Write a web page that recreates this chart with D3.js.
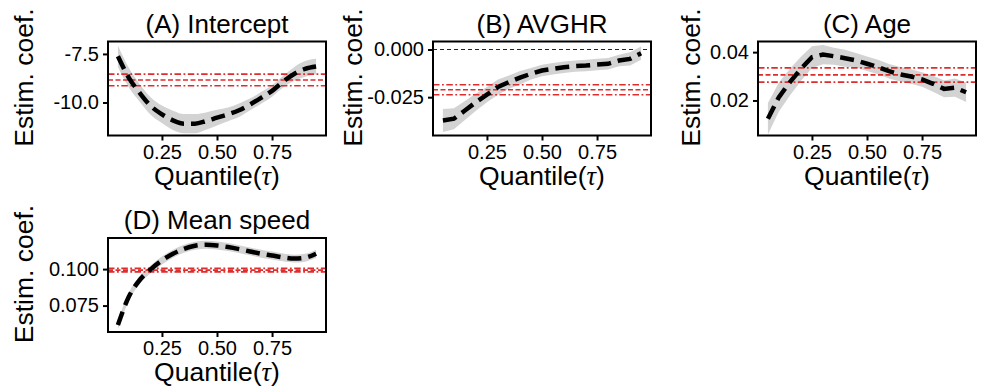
<!DOCTYPE html>
<html><head><meta charset="utf-8">
<script src="https://cdn.jsdelivr.net/npm/d3@7"></script>
<style>
html,body{margin:0;padding:0;background:#fff;}
svg{display:block;}
text{font-family:"Liberation Sans",Arial,sans-serif;fill:#000;}
</style></head><body>
<script>
const quantiles = [0.05,0.10,0.15,0.20,0.25,0.30,0.35,0.40,0.45,0.50,0.55,0.60,0.65,0.70,0.75,0.80,0.85,0.90,0.95];
const panelTitles = ["(A) Intercept","(B) AVGHR","(C) Age","(D) Mean speed"];

const meanA  = [-7.62,-8.73,-9.52,-10.19,-10.61,-10.92,-11.09,-11.09,-10.96,-10.78,-10.61,-10.40,-10.10,-9.76,-9.40,-8.93,-8.53,-8.27,-8.15];
const upperA = [-7.07,-8.23,-9.07,-9.74,-10.16,-10.42,-10.59,-10.59,-10.51,-10.38,-10.26,-10.05,-9.80,-9.46,-9.10,-8.63,-8.18,-7.87,-7.75];
const lowerA = [-8.17,-9.23,-9.97,-10.64,-11.06,-11.42,-11.59,-11.59,-11.41,-11.18,-10.96,-10.75,-10.40,-10.06,-9.70,-9.23,-8.88,-8.67,-8.55];

const meanB  = [-0.0372,-0.0363,-0.0320,-0.0276,-0.0237,-0.0197,-0.0171,-0.0148,-0.0127,-0.0110,-0.0101,-0.0093,-0.0087,-0.0084,-0.0079,-0.0075,-0.0058,-0.0049,-0.0019];
const upperB = [-0.0312,-0.0308,-0.0270,-0.0231,-0.0197,-0.0157,-0.0136,-0.0113,-0.0097,-0.0080,-0.0071,-0.0063,-0.0057,-0.0054,-0.0049,-0.0045,-0.0028,-0.0014,0.0016];
const lowerB = [-0.0432,-0.0418,-0.0370,-0.0321,-0.0277,-0.0237,-0.0206,-0.0183,-0.0157,-0.0140,-0.0131,-0.0123,-0.0117,-0.0114,-0.0109,-0.0105,-0.0088,-0.0084,-0.0054];

const meanC  = [0.0124,0.0214,0.0276,0.0331,0.0379,0.0390,0.0383,0.0375,0.0366,0.0352,0.0338,0.0321,0.0308,0.0299,0.0287,0.0269,0.0248,0.0253,0.0234];
const upperC = [0.0189,0.0274,0.0331,0.0381,0.0424,0.0430,0.0418,0.0410,0.0396,0.0382,0.0368,0.0351,0.0338,0.0329,0.0317,0.0302,0.0283,0.0291,0.0274];
const lowerC = [0.0059,0.0154,0.0221,0.0281,0.0334,0.0350,0.0348,0.0340,0.0336,0.0322,0.0308,0.0291,0.0278,0.0269,0.0257,0.0236,0.0213,0.0215,0.0194];

const meanD  = [0.0617,0.0812,0.0927,0.1000,0.1059,0.1105,0.1139,0.1160,0.1167,0.1162,0.1151,0.1137,0.1121,0.1105,0.1093,0.1080,0.1072,0.1078,0.1105];
const upperD = [0.0647,0.0840,0.0954,0.1027,0.1086,0.1132,0.1166,0.1187,0.1194,0.1189,0.1178,0.1164,0.1148,0.1132,0.1120,0.1107,0.1099,0.1105,0.1133];
const lowerD = [0.0587,0.0784,0.0900,0.0973,0.1032,0.1078,0.1112,0.1133,0.1140,0.1135,0.1124,0.1110,0.1094,0.1078,0.1066,0.1053,0.1045,0.1051,0.1077];

// reference (mean-regression) estimate and its interval
const refEst = [-8.84,-0.0211,0.0306,0.0993];
const refLow = [-9.14,-0.0237,0.0276,0.0981];
const refHigh= [-8.54,-0.0185,0.0335,0.1005];

const yTickValues = [[-10.0,-7.5],[-0.025,0.0],[0.02,0.04],[0.075,0.100]];
const yTickLabels = [["-10.0","-7.5"],["-0.025","0.000"],["0.02","0.04"],["0.075","0.100"]];
const yDomains = [[-11.70,-6.86],[-0.0451,0.0042],[0.0055,0.0444],[0.0569,0.1213]];
const xTickValues = [0.25,0.50,0.75];
const xTickLabels = ["0.25","0.50","0.75"];
const xDomain = [0.005,0.995];

const means = [meanA,meanB,meanC,meanD];
const uppers = [upperA,upperB,upperC,upperD];
const lowers = [lowerA,lowerB,lowerC,lowerD];

const W = 982, H = 387;
const svg = d3.select("body").append("svg").attr("width",W).attr("height",H);

const boxW = 218, boxH = 94;
const panelPos = [[108,41.5],[433,41.5],[758,41.5],[108,238]];
const yTitleOffset = [75,71,58,75];
const curves = [d3.curveMonotoneX, d3.curveLinear, d3.curveLinear, d3.curveMonotoneX];

const red = "#de2d2d";

panelPos.forEach(([left,top],i)=>{
  const g = svg.append("g").attr("transform",`translate(${left},${top})`);
  const x = d3.scaleLinear().domain(xDomain).range([0,boxW]);
  const y = d3.scaleLinear().domain(yDomains[i]).range([boxH,0]);
  const data = quantiles.map((q,k)=>({q, m:means[i][k], lo:lowers[i][k], hi:uppers[i][k]}));

  const clipId = "clip"+i;
  g.append("clipPath").attr("id",clipId).append("rect").attr("width",boxW).attr("height",boxH);
  const inner = g.append("g").attr("clip-path",`url(#${clipId})`);

  const refs = [
    {v:refHigh[i], dash:"6.5,2.5,1.8,2.5"},
    {v:refLow[i],  dash:"6.5,2.5,1.8,2.5"},
    {v:refEst[i],  dash:"5,2.5"}
  ];
  if(i===1){
    inner.append("line").attr("x1",0).attr("x2",boxW).attr("y1",y(0)).attr("y2",y(0))
      .attr("stroke","#222").attr("stroke-width",1.1).attr("stroke-dasharray","4,3");
  }
  inner.append("path").datum(data)
    .attr("d",d3.area().curve(curves[i]).x(d=>x(d.q)).y0(d=>y(d.lo)).y1(d=>y(d.hi)))
    .attr("fill","#d3d3d3");
  refs.forEach(r=>{
    inner.append("line").attr("x1",0).attr("x2",boxW).attr("y1",y(r.v)).attr("y2",y(r.v))
      .attr("stroke",red).attr("stroke-width",1.6).attr("stroke-dasharray",r.dash);
  });
  inner.append("path").datum(data)
    .attr("d",d3.line().curve(curves[i]).x(d=>x(d.q)).y(d=>y(d.m)))
    .attr("fill","none").attr("stroke","#000").attr("stroke-width",4.5)
    .attr("stroke-dasharray","14,7");

  g.append("rect").attr("width",boxW).attr("height",boxH).attr("fill","none")
    .attr("stroke","#000").attr("stroke-width",2);

  const ya = g.append("g").call(d3.axisLeft(y).tickValues(yTickValues[i])
      .tickFormat((d,k)=>yTickLabels[i][k]).tickSize(5).tickPadding(4));
  ya.select(".domain").remove();
  ya.selectAll("line").attr("stroke","#000").attr("stroke-width",2);
  ya.selectAll("text").attr("font-size",20).attr("fill","#000")
    .style("font-family","'Liberation Sans',Arial,sans-serif");

  const xa = g.append("g").attr("transform",`translate(0,${boxH})`)
    .call(d3.axisBottom(x).tickValues(xTickValues).tickFormat((d,k)=>xTickLabels[k]).tickSize(5).tickPadding(4));
  xa.select(".domain").remove();
  xa.selectAll("line").attr("stroke","#000").attr("stroke-width",2);
  xa.selectAll("text").attr("font-size",20).attr("fill","#000")
    .style("font-family","'Liberation Sans',Arial,sans-serif");

  g.append("text").attr("x",boxW/2).attr("y",-9).attr("text-anchor","middle")
    .attr("font-size",26).text(panelTitles[i]);
  const xt = g.append("text").attr("x",boxW/2).attr("y",boxH+49).attr("text-anchor","middle")
    .attr("font-size",26.5);
  xt.append("tspan").text("Quantile(");
  xt.append("tspan").style("font-family","'Liberation Serif','DejaVu Serif',serif").attr("font-style","italic").text("τ");
  xt.append("tspan").text(")");
  g.append("text").attr("transform",`translate(${-yTitleOffset[i]},${boxH/2-11}) rotate(-90)`)
    .attr("text-anchor","middle").attr("font-size",26.5).text("Estim. coef.");
});
</script>
</body></html>
